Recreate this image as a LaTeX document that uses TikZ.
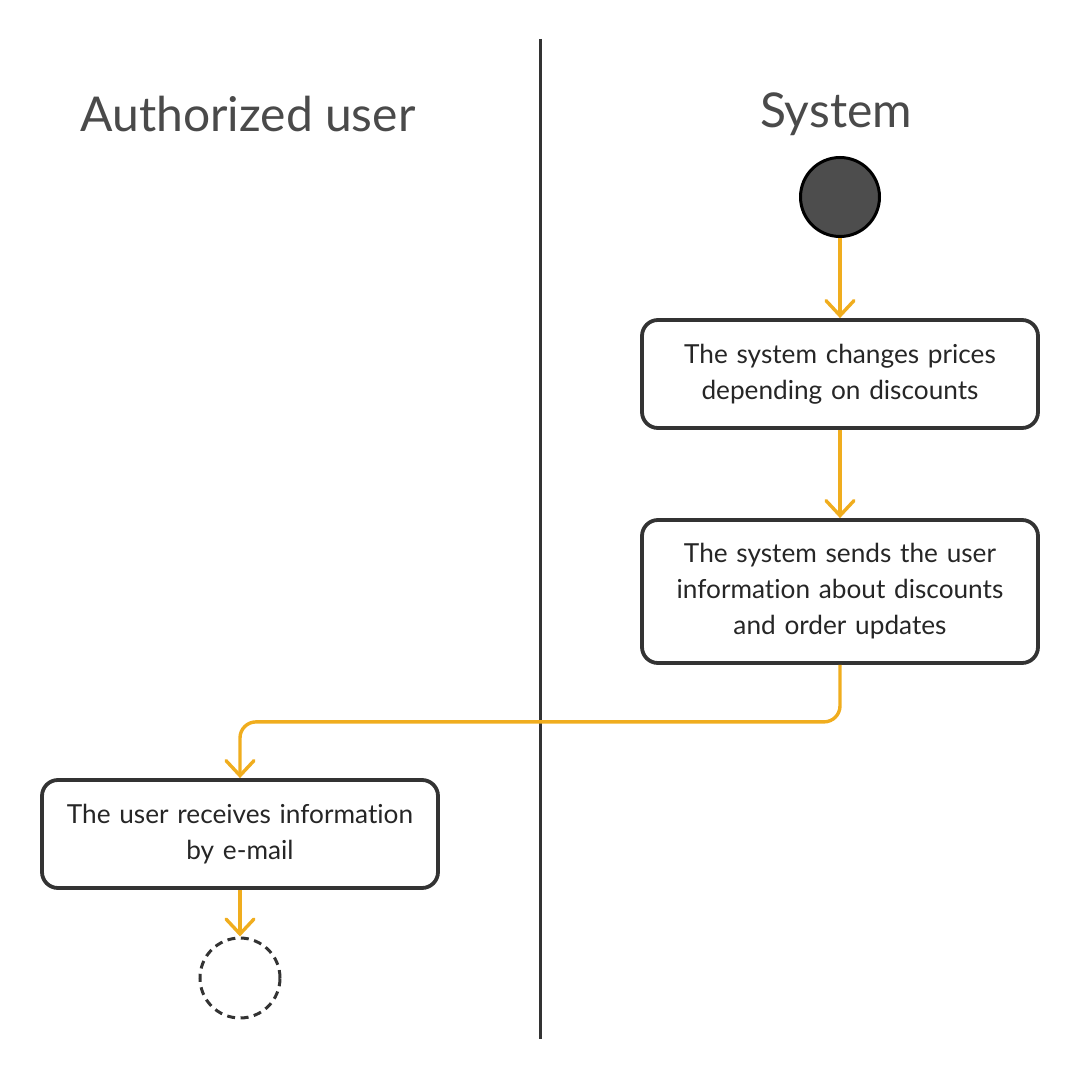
\documentclass[tikz,border=0pt]{standalone}
\usepackage{fontspec}
\setmainfont{Lato}[Ligatures=NoCommon]
\usepackage{xcolor}
\usetikzlibrary{positioning,arrows.meta}
\definecolor{flowcolor}{RGB}{240, 173, 30}
\definecolor{edgecolor}{RGB}{51, 51, 51}
\definecolor{titlecolor}{RGB}{74, 74, 74}
\definecolor{startcolor}{RGB}{77, 77, 77}
\tikzset{
    lane title/.style={font=\fontsize{48}{52}\selectfont, text=titlecolor},
    lane line/.style={draw=edgecolor, line width=3pt},
    action/.style={rectangle, rounded corners=16pt, draw=edgecolor, line width=3.8pt, fill=white, text width=370pt, inner xsep=13pt, align=center, font=\fontsize{26.2}{36}\selectfont, text=black!85},
    start state/.style={circle, draw=black, line width=3pt, fill=startcolor, minimum size=79pt, inner sep=0pt},
    end state/.style={circle, draw=edgecolor, line width=3pt, dash pattern=on 8pt off 5.5pt, minimum size=80pt, inner sep=0pt},
    flow arrow/.style={-{Straight Barb[length=15pt, width=28pt, line cap=round]}, line width=3.4pt, draw=flowcolor, rounded corners=16pt}
}

\begin{document}
\begin{tikzpicture}[x=1pt, y=-1pt]
    \useasboundingbox (0,0) rectangle (1080,1078);

    % Swimlane divider
    \coordinate (lane top) at (540,39);
    \coordinate (lane bottom) at (540,1039);
    \draw[lane line] (lane top) -- (lane bottom);

    % Lane titles
    \node[lane title] (user title) at (248,114) {Authorized user};
    \node[lane title] (system title) at (836,114) {System};

    % System lane
    \node[start state] (start) at (840,197) {};
    \node[action, minimum height=108pt] (change) at (840,374) {The system changes prices\\depending on discounts};
    \node[action, minimum height=143pt] (send) at (840,591.5) {The system sends the user\\information about discounts\\and order updates};

    % User lane
    \node[action, minimum height=108pt] (receive) at (240,834) {The user receives information\\by e-mail};
    \node[end state] (end) at (240,978) {};

    % Control flow
    \draw[flow arrow] (start) -- (change);
    \draw[flow arrow] (change) -- (send);
    \draw[flow arrow] (send.south) -- ++(0,57) -| (receive.north);
    \draw[flow arrow] (receive) -- (end);
\end{tikzpicture}
\end{document}
